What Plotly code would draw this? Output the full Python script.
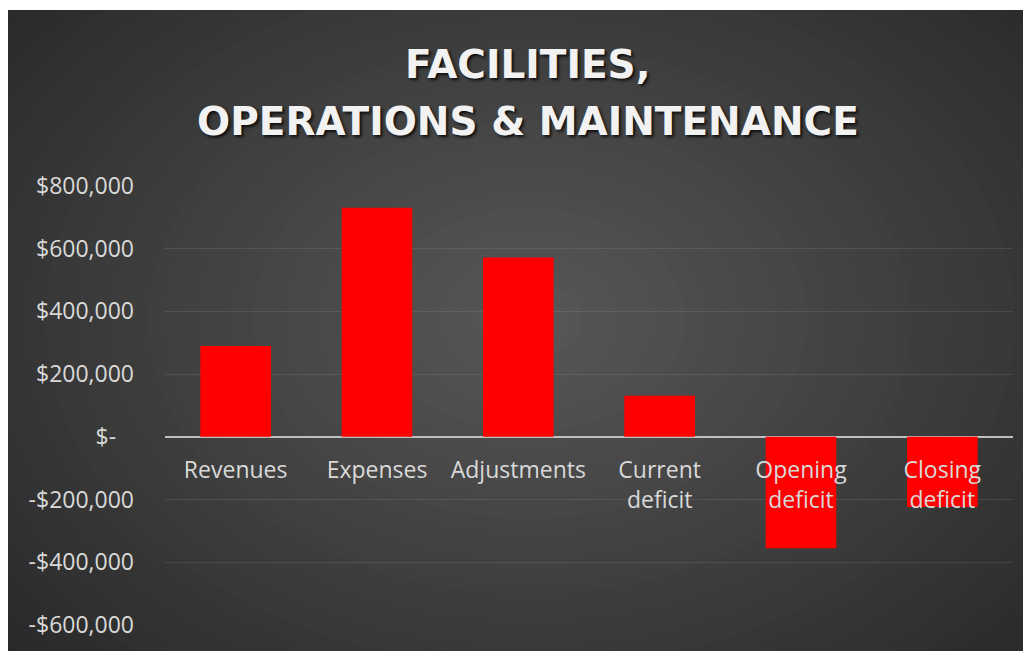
import plotly.graph_objects as go

categories = ['Revenues', 'Expenses', 'Adjustments',
              'Current<br>deficit', 'Opening<br>deficit', 'Closing<br>deficit']
amounts = [290000, 731000, 572000, 131000, -355000, -224000]

tick_values = [800000, 600000, 400000, 200000, 0, -200000, -400000, -600000]
tick_labels = ['$800,000', '$600,000', '$400,000', '$200,000', '$-\u00a0\u00a0\u00a0',
               '-$200,000', '-$400,000', '-$600,000']
y_range = [-600000, 800000]

title_lines = ['FACILITIES,', 'OPERATIONS & MAINTENANCE']

# the page puts the figure 8px in from the top-left corner
OFF = 8
W, H = 1031 - OFF, 651 - OFF
L, R, T, B = 165 - OFF, 18, 186 - OFF, 26


def px_x(px):
    # px is a position in the 1031x651 window
    return (px - OFF - L) / (W - L - R)


def px_y(py):
    return (H - B - (py - OFF)) / (H - T - B)


# radial-ish background built from stacked ellipses
shapes = []
cx, cy = 530, 320
n = 45
c_out, c_in = 36, 88
for i in range(n):
    f = 1 - i / n
    rx, ry = 780 * f, 560 * f
    g = int(round(c_out + (c_in - c_out) * (1 - f)))
    shapes.append(dict(
        type='circle', xref='paper', yref='paper', layer='below',
        x0=px_x(cx - rx), x1=px_x(cx + rx),
        y0=px_y(cy + ry), y1=px_y(cy - ry),
        fillcolor=f'rgb({g},{g},{g})', line=dict(width=0)
    ))
# white strip at top
shapes.append(dict(type='rect', xref='paper', yref='paper', layer='below',
                   x0=px_x(-5), x1=px_x(1040), y0=px_y(10), y1=px_y(-5),
                   fillcolor='white', line=dict(width=0)))

fig = go.Figure()
fig.add_trace(go.Bar(
    x=categories,
    y=amounts,
    marker=dict(color='#ff0000', line=dict(width=0)),
    width=0.5,
    hoverinfo='x+y'
))

title_y = [65, 121]
for line, yy in zip(title_lines, title_y):
    fig.add_annotation(
        text=line, xref='paper', yref='paper',
        x=px_x(528), y=px_y(yy), xanchor='center', yanchor='middle',
        showarrow=False,
        font=dict(family='DejaVu Sans', size=39, color='#f2f2f2', weight=700,
                  shadow='2px 2px 3px rgba(0,0,0,0.8)')
    )

fig.update_xaxes(
    anchor='free',
    position=(0 - y_range[0]) / (y_range[1] - y_range[0]),
    showline=False,
    showgrid=False,
    ticks='',
    ticklabelstandoff=17,
    tickfont=dict(family='Open Sans', size=23, color='#d9d9d9')
)
fig.update_yaxes(
    range=y_range,
    tickvals=tick_values,
    ticktext=tick_labels,
    showgrid=True,
    gridcolor='rgba(255,255,255,0.09)',
    gridwidth=1,
    zeroline=True,
    zerolinecolor='#bfbfbf',
    zerolinewidth=2,
    showline=False,
    ticks='',
    ticklabelstandoff=30,
    tickfont=dict(family='Open Sans', size=23, color='#d9d9d9')
)
fig.update_layout(
    width=W, height=H,
    margin=dict(l=L, r=R, t=T, b=B),
    paper_bgcolor='#262626',
    plot_bgcolor='rgba(0,0,0,0)',
    shapes=shapes,
    showlegend=False,
    bargap=0.5
)
fig.write_html('out.html')
